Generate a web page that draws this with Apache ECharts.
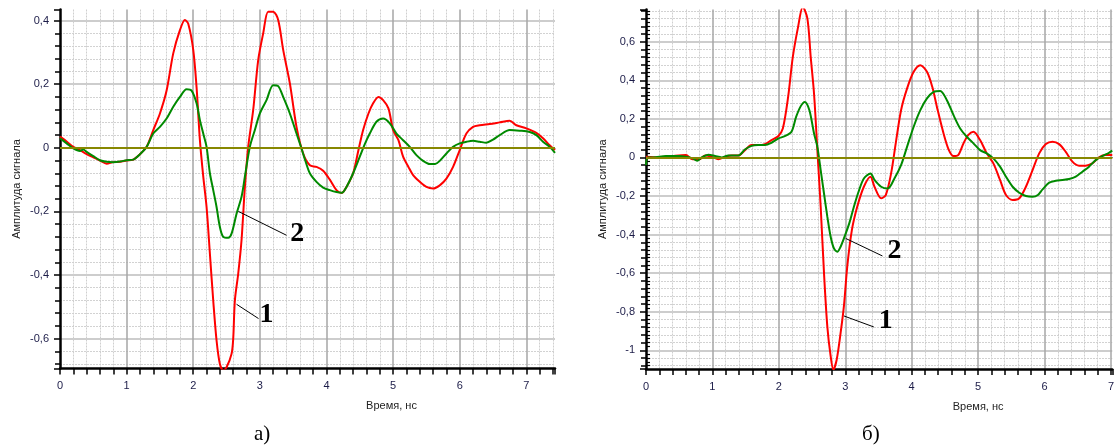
<!DOCTYPE html>
<html>
<head>
<meta charset="utf-8">
<script src="https://cdn.jsdelivr.net/npm/echarts@6/dist/echarts.min.js"></script>
<style>
  html, body { margin: 0; padding: 0; background: #fff; }
  #chart { width: 1117px; height: 448px; }
</style>
</head>
<body>
<div id="chart"></div>
<script>
// panel a) — [time ns, amplitude]
const redA = [
  [0, 0.035], [0.1, 0.02], [0.2, 0.003], [0.3, -0.007], [0.4, -0.02], [0.5, -0.03], [0.6, -0.04],
  [0.7, -0.05], [0.8, -0.045], [0.9, -0.044], [1.0, -0.04], [1.1, -0.037], [1.2, -0.02], [1.3, 0.003],
  [1.4, 0.056], [1.5, 0.108], [1.6, 0.18], [1.7, 0.297], [1.8, 0.37], [1.875, 0.402], [1.925, 0.39],
  [2.0, 0.308], [2.05, 0.19], [2.1, 0.024], [2.15, -0.09], [2.2, -0.186], [2.25, -0.333], [2.3, -0.48],
  [2.35, -0.606], [2.4, -0.68], [2.45, -0.7], [2.5, -0.69], [2.575, -0.648], [2.6, -0.6], [2.625, -0.48],
  [2.675, -0.396], [2.725, -0.29], [2.775, -0.123], [2.825, 0.003], [2.9, 0.119], [2.975, 0.276],
  [3.05, 0.36], [3.125, 0.428], [3.2, 0.428], [3.275, 0.402], [3.35, 0.308], [3.45, 0.203], [3.55, 0.066],
  [3.65, -0.018], [3.75, -0.055], [3.85, -0.06], [3.95, -0.072], [4.05, -0.1], [4.15, -0.133],
  [4.23, -0.142], [4.3, -0.123], [4.4, -0.08], [4.48, -0.007], [4.55, 0.056], [4.63, 0.108], [4.7, 0.14],
  [4.78, 0.16], [4.85, 0.15], [4.93, 0.124], [5.0, 0.056], [5.08, 0.024], [5.15, -0.028], [5.23, -0.06],
  [5.3, -0.086], [5.4, -0.107], [5.5, -0.123], [5.6, -0.128], [5.7, -0.118], [5.8, -0.097], [5.9, -0.06],
  [6.0, -0.007], [6.1, 0.045], [6.2, 0.066], [6.3, 0.071], [6.45, 0.075], [6.6, 0.08], [6.75, 0.085],
  [6.85, 0.071], [7.0, 0.061], [7.15, 0.047], [7.25, 0.03], [7.35, 0.008], [7.43, -0.007]
];
const greenA = [
  [0, 0.03], [0.1, 0.014], [0.2, -0.002], [0.3, -0.01], [0.35, -0.005], [0.4, -0.013], [0.5, -0.026],
  [0.6, -0.039], [0.7, -0.044], [0.8, -0.045], [0.9, -0.043], [1.0, -0.039], [1.1, -0.037], [1.2, -0.02],
  [1.3, 0.003], [1.4, 0.045], [1.5, 0.066], [1.6, 0.092], [1.7, 0.129], [1.8, 0.16], [1.9, 0.184],
  [1.975, 0.18], [2.05, 0.14], [2.1, 0.087], [2.15, 0.045], [2.2, 0.003], [2.25, -0.08], [2.3, -0.133],
  [2.35, -0.186], [2.4, -0.249], [2.45, -0.28], [2.525, -0.283], [2.575, -0.27], [2.65, -0.207],
  [2.725, -0.154], [2.775, -0.091], [2.85, 0.003], [2.925, 0.056], [3.0, 0.108], [3.1, 0.15], [3.2, 0.197],
  [3.275, 0.194], [3.35, 0.16], [3.45, 0.108], [3.55, 0.045], [3.625, -0.002], [3.68, -0.039], [3.75, -0.08],
  [3.85, -0.107], [3.95, -0.125], [4.05, -0.133], [4.15, -0.139], [4.23, -0.141], [4.3, -0.123], [4.4, -0.08],
  [4.5, -0.028], [4.58, 0.014], [4.65, 0.045], [4.75, 0.082], [4.85, 0.092], [4.95, 0.077], [5.05, 0.045],
  [5.15, 0.024], [5.25, 0.003], [5.35, -0.023], [5.45, -0.041], [5.55, -0.051], [5.63, -0.051], [5.7, -0.041],
  [5.8, -0.018], [5.9, 0.003], [6.0, 0.014], [6.1, 0.019], [6.2, 0.022], [6.3, 0.019], [6.4, 0.016],
  [6.5, 0.026], [6.6, 0.04], [6.75, 0.056], [6.9, 0.054], [7.05, 0.05], [7.15, 0.04], [7.25, 0.019],
  [7.35, 0.003], [7.43, -0.016]
];

// panel б)
const redB = [
  [0, 0.003], [0.2, 0], [0.4, 0.007], [0.6, 0.012], [0.7, -0.01], [0.8, -0.01], [0.89, 0.01], [0.99, 0.003],
  [1.09, -0.01], [1.19, 0.003], [1.29, 0.01], [1.39, 0.01], [1.49, 0.038], [1.59, 0.064], [1.69, 0.064],
  [1.79, 0.069], [1.89, 0.09], [1.99, 0.11], [2.06, 0.15], [2.14, 0.314], [2.21, 0.52], [2.29, 0.677],
  [2.36, 0.78], [2.43, 0.72], [2.48, 0.52], [2.53, 0.33], [2.58, 0.038], [2.63, -0.256], [2.68, -0.6],
  [2.73, -0.877], [2.78, -1.03], [2.82, -1.1], [2.87, -1.05], [2.93, -0.91], [2.98, -0.77], [3.03, -0.566],
  [3.1, -0.376], [3.18, -0.256], [3.28, -0.152], [3.38, -0.1], [3.44, -0.152], [3.54, -0.212], [3.61, -0.195],
  [3.69, -0.083], [3.76, 0.073], [3.84, 0.245], [3.93, 0.357], [4.03, 0.444], [4.13, 0.478], [4.23, 0.444],
  [4.31, 0.366], [4.38, 0.262], [4.48, 0.124], [4.56, 0.038], [4.63, 0.007], [4.7, 0.012], [4.78, 0.073],
  [4.85, 0.116], [4.93, 0.133], [5.03, 0.09], [5.13, 0.021], [5.23, -0.031], [5.33, -0.117], [5.42, -0.195],
  [5.52, -0.221], [5.62, -0.212], [5.72, -0.152], [5.82, -0.066], [5.92, 0.021], [6.02, 0.069], [6.12, 0.081],
  [6.22, 0.069], [6.32, 0.029], [6.42, -0.022], [6.52, -0.043], [6.62, -0.043], [6.72, -0.031], [6.82, 0],
  [6.92, 0.012], [7.02, 0.012]
];
const greenB = [
  [0, -0.04], [0.025, 0], [0.1, 0], [0.3, 0.007], [0.5, 0.007], [0.6, 0.003], [0.7, -0.005], [0.77, -0.017],
  [0.84, 0], [0.94, 0.014], [1.04, 0.007], [1.14, 0], [1.24, 0.01], [1.39, 0.01], [1.49, 0.041], [1.59, 0.06],
  [1.69, 0.064], [1.79, 0.064], [1.89, 0.076], [1.99, 0.098], [2.09, 0.11], [2.19, 0.133], [2.26, 0.21],
  [2.33, 0.266], [2.39, 0.288], [2.46, 0.245], [2.53, 0.124], [2.58, 0.055], [2.63, -0.066], [2.68, -0.187],
  [2.73, -0.307], [2.78, -0.411], [2.83, -0.472], [2.88, -0.489], [2.93, -0.463], [2.98, -0.42], [3.06, -0.342],
  [3.13, -0.256], [3.2, -0.178], [3.28, -0.109], [3.38, -0.083], [3.44, -0.117], [3.54, -0.152], [3.64, -0.161],
  [3.74, -0.109], [3.84, -0.04], [3.93, 0.055], [4.03, 0.159], [4.13, 0.245], [4.23, 0.306], [4.33, 0.34],
  [4.43, 0.345], [4.53, 0.297], [4.63, 0.219], [4.73, 0.15], [4.83, 0.107], [4.93, 0.073], [5.03, 0.038],
  [5.13, 0.021], [5.23, -0.005], [5.33, -0.048], [5.42, -0.1], [5.52, -0.152], [5.62, -0.183], [5.72, -0.2],
  [5.82, -0.204], [5.9, -0.195], [5.97, -0.166], [6.07, -0.131], [6.17, -0.121], [6.27, -0.117], [6.37, -0.112],
  [6.47, -0.1], [6.57, -0.074], [6.67, -0.048], [6.77, -0.014], [6.87, 0.007], [6.97, 0.024], [7.02, 0.035]
];

// axis ranges
const xMaxA = 7.43, yMinA = -0.694, yMaxA = 0.435;
const xMaxB = 7.02, yMinB = -1.097, yMaxB = 0.767;

const labelColor = '#1c1c48';
const font = 'Liberation Sans';

// only label round steps, decimal comma like the original
const fmt = step => v => {
  const k = v / step;
  if (Math.abs(k - Math.round(k)) > 1e-6) return '';
  return String(Math.round(v * 100) / 100).replace('.', ',');
};

const xAxisFor = (grid, max, shift) => ({
  type: 'value', gridIndex: grid, min: 0, max: max, interval: 1,
  name: 'Время, нс', nameLocation: 'middle', nameGap: 32,
  nameTextStyle: { fontFamily: font, fontSize: 11, color: '#222', padding: [0, 0, 0, shift] },
  axisLine: { show: true, onZero: false, lineStyle: { color: '#000', width: 2.5 } },
  axisTick: { show: true, length: 6, lineStyle: { color: '#000', width: 1.5 } },
  minorTick: { show: true, splitNumber: 5, length: 6, lineStyle: { color: '#000', width: 1.5 } },
  axisLabel: { fontFamily: font, fontSize: 11, color: labelColor, margin: 12, formatter: fmt(1) },
  splitLine: { show: true, showMinLine: false, showMaxLine: false, lineStyle: { color: '#a6a6a6', width: 1.5 } },
  minorSplitLine: { show: true, lineStyle: { color: '#cfcfcf', width: 1, type: [2, 1] } }
});

const yAxisFor = (grid, min, max) => ({
  type: 'value', gridIndex: grid, min: min, max: max, minInterval: 0.2, maxInterval: 0.2,
  name: 'Амплитуда сигнала', nameLocation: 'middle', nameGap: 38, nameRotate: 90,
  nameTextStyle: { fontFamily: font, fontSize: 11, color: '#222' },
  axisLine: { show: true, onZero: false, lineStyle: { color: '#000', width: 2.5 } },
  axisTick: { show: true, length: 6, lineStyle: { color: '#000', width: 1.5 } },
  minorTick: { show: true, splitNumber: 5, length: 5, lineStyle: { color: '#000', width: 1.5 } },
  axisLabel: { fontFamily: font, fontSize: 11, color: labelColor, margin: 11, formatter: fmt(0.2),
    showMinLabel: false, showMaxLabel: false },
  splitLine: { show: true, showMinLine: false, showMaxLine: false, lineStyle: { color: '#cdcdcd', width: 2 } },
  minorSplitLine: { show: true, lineStyle: { color: '#d2d2d2', width: 1, type: [2, 1] } }
});

const topBorder = (grid, max) => ({
  type: 'value', gridIndex: grid, position: 'top', min: 0, max: max,
  axisLine: { show: true, lineStyle: { color: '#555', width: 1 } },
  axisTick: { show: false }, axisLabel: { show: false }, splitLine: { show: false }
});

const curve = (data, color, xi, yi, z) => ({
  type: 'line', data: data, xAxisIndex: xi, yAxisIndex: yi, smooth: 0.3,
  showSymbol: false, z: z, lineStyle: { color: color, width: 2 }, itemStyle: { color: color }
});

const zeroLine = (xi, yi) => ({
  type: 'line', data: [], xAxisIndex: xi, yAxisIndex: yi, z: 4,
  markLine: { silent: true, symbol: ['none', 'none'], label: { show: false },
    lineStyle: { color: '#878700', width: 2, type: 'solid' }, data: [{ yAxis: 0 }] }
});

// curve numbers with leader lines, in data coordinates
const callout = (xi, yi, text, from, to, at) => ({
  type: 'scatter', xAxisIndex: xi, yAxisIndex: yi, z: 6, symbolSize: 1,
  itemStyle: { color: 'rgba(0,0,0,0)', opacity: 1 }, data: [at], silent: true,
  label: { show: true, position: 'inside', formatter: text, opacity: 1,
    fontFamily: 'Liberation Serif', fontWeight: 'bold', fontSize: 28, color: '#000',
    textBorderWidth: 0 },
  markLine: { silent: true, symbol: ['none', 'none'], label: { show: false },
    lineStyle: { color: '#000', width: 1, type: 'solid', opacity: 1 },
    data: [[{ coord: from }, { coord: to }]] }
});

const chart = echarts.init(document.getElementById('chart'));
chart.setOption({
  animation: false,
  backgroundColor: '#fff',
  grid: [
    { left: 60, top: 9.5, width: 495, height: 359 },
    { left: 646, top: 9.5, width: 471, height: 359.5 }
  ],
  xAxis: [
    xAxisFor(0, xMaxA, 168),
    xAxisFor(1, xMaxB, 198),
    topBorder(0, xMaxA),
    topBorder(1, xMaxB)
  ],
  yAxis: [
    yAxisFor(0, yMinA, yMaxA),
    yAxisFor(1, yMinB, yMaxB),
    {
      type: 'value', gridIndex: 1, min: yMinB, max: yMaxB, minInterval: 0.2, maxInterval: 0.2,
      axisLine: { show: false }, axisTick: { show: false }, axisLabel: { show: false },
      splitLine: { show: false },
      minorTick: { show: true, splitNumber: 10, length: 4, lineStyle: { color: '#000', width: 1.2 } }
    }
  ],
  series: [
    curve(redA, '#ff0000', 0, 0, 3),
    curve(greenA, '#008a00', 0, 0, 3),
    zeroLine(0, 0),
    callout(0, 0, '2', [2.677, -0.2], [3.40, -0.275], [3.56, -0.269]),
    callout(0, 0, '1', [2.65, -0.492], [2.98, -0.537], [3.1, -0.524]),
    curve(redB, '#ff0000', 1, 1, 3),
    curve(greenB, '#008a00', 1, 1, 3),
    zeroLine(1, 1),
    callout(1, 1, '2', [3.006, -0.42], [3.56, -0.511], [3.74, -0.485]),
    callout(1, 1, '1', [2.98, -0.822], [3.43, -0.879], [3.61, -0.848])
  ],
  graphic: [
    { type: 'text', left: 254, top: 424, style: { text: 'а)', fill: '#000', font: '21px "Liberation Serif"' } },
    { type: 'text', left: 862, top: 424, style: { text: 'б)', fill: '#000', font: '21px "Liberation Serif"' } }
  ]
});
</script>
</body>
</html>
